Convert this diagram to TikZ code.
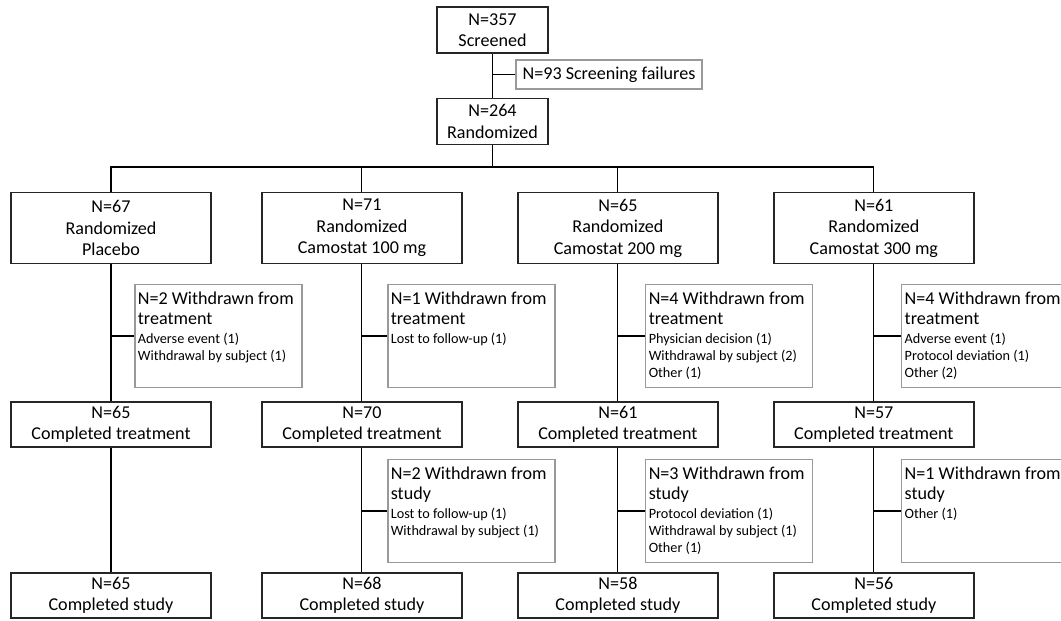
\documentclass[tikz,border=0pt]{standalone}
\usepackage{fontspec}
\setmainfont{Carlito}
\usepackage{tikz}

\newcommand{\bigsize}{\fontsize{10.3}{12.2}\selectfont}
\newcommand{\headsize}{\fontsize{10.3}{11.4}\selectfont}
\newcommand{\smallsize}{\fontsize{8.1}{9.4}\selectfont}

\begin{document}
\begin{tikzpicture}[x=0.02cm, y=-0.02cm,
    box/.style={draw=black!85, line width=0.9pt, align=center, inner sep=0pt, font=\bigsize},
    topbox/.style={box, minimum width=2.22cm, minimum height=0.92cm},
    armbox/.style={box, minimum width=4cm, minimum height=1.42cm},
    endbox/.style={box, minimum width=4cm, minimum height=0.9cm},
    gbox/.style={draw=black!40, line width=0.9pt, anchor=west, inner sep=0pt,
      minimum width=3.34cm, minimum height=2.06cm},
    gtext/.style={anchor=north west, inner xsep=2pt, inner ysep=4.6pt,
      align=left, font=\headsize},
    link/.style={line width=0.6pt}]
    \useasboundingbox (0,0) rectangle (1061,620);
    % Screening
    \node[topbox] (scr) at (492.5,30) {N=357\\Screened};
    \node[box, draw=black!40, minimum width=3.72cm, minimum height=0.58cm] (fail) at (609,74.5) {N=93 Screening failures};
    \node[topbox] (rnd) at (492.5,121.5) {N=264\\Randomized};
    \coordinate (split) at (492.5,167);
    \draw[link] (scr) -- (rnd);
    \draw[link] (scr.south |- fail.west) -- (fail.west);
    % Placebo
    \begin{scope}[xshift=0cm]
      \node[armbox] (arm1) at (111,228) {N=67\\Randomized\\Placebo};
      \node[gbox] (wt1) at (134,336) {};
      \node[gtext] (wt1t) at (wt1.north west) {N=2 Withdrawn from\\treatment\\[-0.6pt]
        \smallsize Adverse event (1)\\[-1.8pt]\smallsize Withdrawal by subject (1)};
      \node[endbox] (ct1) at (111,424.5) {N=65\\Completed treatment};
      \node[endbox] (cs1) at (111,595.5) {N=65\\Completed study};
      \draw[link] (arm1) -- (ct1) -- (cs1);
      \draw[link] (arm1.south |- wt1.west) -- (wt1.west);
    \end{scope}
    % Camostat 100 mg
    \begin{scope}[xshift=5.02cm]
      \node[armbox] (arm2) at (111,228) {N=71\\Randomized\\Camostat 100 mg};
      \node[gbox] (wt2) at (136,336) {};
      \node[gtext] (wt2t) at (wt2.north west) {N=1 Withdrawn from\\treatment\\[-0.6pt]
        \smallsize Lost to follow-up (1)};
      \node[endbox] (ct2) at (111,424.5) {N=70\\Completed treatment};
      \node[gbox] (ws2) at (136,511) {};
      \node[gtext] (ws2t) at (ws2.north west) {N=2 Withdrawn from\\study\\[-0.6pt]
        \smallsize Lost to follow-up (1)\\[-1.8pt]\smallsize Withdrawal by subject (1)};
      \node[endbox] (cs2) at (111,595.5) {N=68\\Completed study};
      \draw[link] (arm2) -- (ct2) -- (cs2);
      \draw[link] (arm2.south |- wt2.west) -- (wt2.west);
      \draw[link] (ct2.south |- ws2.west) -- (ws2.west);
    \end{scope}
    % Camostat 200 mg
    \begin{scope}[xshift=10.14cm]
      \node[armbox] (arm3) at (111,228) {N=65\\Randomized\\Camostat 200 mg};
      \node[gbox] (wt3) at (138,336) {};
      \node[gtext] (wt3t) at (wt3.north west) {N=4 Withdrawn from\\treatment\\[-0.6pt]
        \smallsize Physician decision (1)\\[-1.8pt]\smallsize Withdrawal by subject (2)\\[-1.8pt]\smallsize Other (1)};
      \node[endbox] (ct3) at (111,424.5) {N=61\\Completed treatment};
      \node[gbox] (ws3) at (138,511) {};
      \node[gtext] (ws3t) at (ws3.north west) {N=3 Withdrawn from\\study\\[-0.6pt]
        \smallsize Protocol deviation (1)\\[-1.8pt]\smallsize Withdrawal by subject (1)\\[-1.8pt]\smallsize Other (1)};
      \node[endbox] (cs3) at (111,595.5) {N=58\\Completed study};
      \draw[link] (arm3) -- (ct3) -- (cs3);
      \draw[link] (arm3.south |- wt3.west) -- (wt3.west);
      \draw[link] (ct3.south |- ws3.west) -- (ws3.west);
    \end{scope}
    % Camostat 300 mg
    \begin{scope}[xshift=15.26cm]
      \node[armbox] (arm4) at (111,228) {N=61\\Randomized\\Camostat 300 mg};
      \node[gbox] (wt4) at (138,336) {};
      \node[gtext] (wt4t) at (wt4.north west) {N=4 Withdrawn from\\treatment\\[-0.6pt]
        \smallsize Adverse event (1)\\[-1.8pt]\smallsize Protocol deviation (1)\\[-1.8pt]\smallsize Other (2)};
      \node[endbox] (ct4) at (111,424.5) {N=57\\Completed treatment};
      \node[gbox] (ws4) at (138,511) {};
      \node[gtext] (ws4t) at (ws4.north west) {N=1 Withdrawn from\\study\\[-0.6pt]
        \smallsize Other (1)};
      \node[endbox] (cs4) at (111,595.5) {N=56\\Completed study};
      \draw[link] (arm4) -- (ct4) -- (cs4);
      \draw[link] (arm4.south |- wt4.west) -- (wt4.west);
      \draw[link] (ct4.south |- ws4.west) -- (ws4.west);
    \end{scope}
    % Branches
    \draw[link] (rnd) -- (split);
    \draw[link] (split) -| (arm1);
    \draw[link] (split) -| (arm2);
    \draw[link] (split) -| (arm3);
    \draw[link] (split) -| (arm4);
\end{tikzpicture}
\end{document}
